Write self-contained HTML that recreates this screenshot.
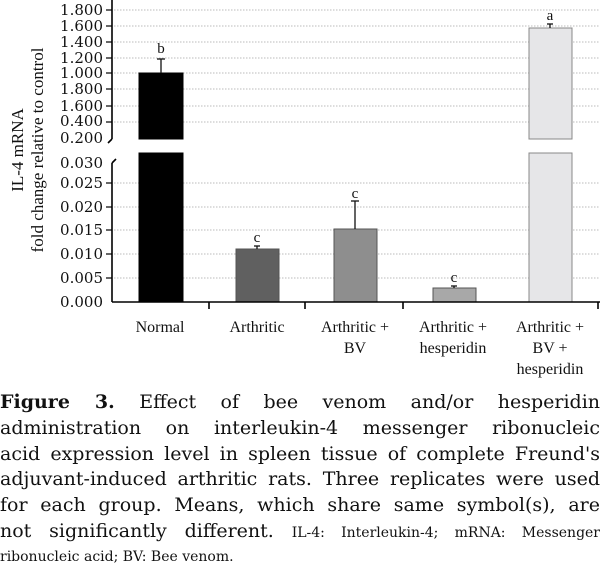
<!DOCTYPE html>
<html><head><style>
body{margin:0;width:600px;height:576px;background:#fff;overflow:hidden;font-family:"Liberation Serif",serif;}
svg{position:absolute;left:0;top:0}
.cap{position:absolute;left:0;top:390px;width:600px;font-family:"DejaVu Serif",serif;font-size:19px;line-height:25.8px;color:#111;}
.cap div{text-align:justify;text-align-last:justify;white-space:nowrap;height:25.8px}
.cap div.l{text-align-last:left}
.cap b{font-weight:bold}
.sm{font-size:14px}
</style></head><body>
<svg width="600" height="380" font-family="Liberation Serif, serif" fill="#111">
<g stroke="#bbb" stroke-dasharray="1.5,1.5" stroke-width="1">
<line x1="114" x2="600" y1="10" y2="10"/><line x1="114" x2="600" y1="26" y2="26"/><line x1="114" x2="600" y1="42" y2="42"/><line x1="114" x2="600" y1="58" y2="58"/><line x1="114" x2="600" y1="73" y2="73"/><line x1="114" x2="600" y1="89" y2="89"/><line x1="114" x2="600" y1="106" y2="106"/><line x1="114" x2="600" y1="122" y2="122"/>
<line x1="114" x2="600" y1="183" y2="183"/><line x1="114" x2="600" y1="207" y2="207"/><line x1="114" x2="600" y1="230" y2="230"/><line x1="114" x2="600" y1="254" y2="254"/><line x1="114" x2="600" y1="278" y2="278"/>
</g>
<g stroke="#555" stroke-width="1">
<rect x="139" y="73" width="44" height="66" fill="#000" stroke="#000"/>
<rect x="139" y="153" width="44" height="149" fill="#000" stroke="#000"/>
<rect x="236" y="249" width="43" height="53" fill="#606060"/>
<rect x="334" y="229" width="43" height="73" fill="#8e8e8e"/>
<rect x="433" y="288" width="43" height="14" fill="#a8a8a8"/>
<rect x="529" y="28" width="43" height="111" fill="#e6e6e8" stroke="#888"/>
<rect x="529" y="153" width="43" height="149" fill="#e6e6e8" stroke="#888"/>
</g>
<g stroke="#111" stroke-width="1.3">
<line x1="161" y1="73" x2="161" y2="59"/><line x1="157" y1="59" x2="165" y2="59"/>
<line x1="257" y1="249" x2="257" y2="246"/><line x1="254" y1="246" x2="260" y2="246"/>
<line x1="355" y1="229" x2="355" y2="201"/><line x1="351" y1="201" x2="359" y2="201"/>
<line x1="454" y1="288" x2="454" y2="286"/><line x1="451" y1="286" x2="457" y2="286"/>
<line x1="550" y1="28" x2="550" y2="24"/><line x1="547" y1="24" x2="553" y2="24"/>
</g>
<g stroke="#000" stroke-width="1.6" fill="none">
<line x1="112" y1="0" x2="112" y2="139"/><line x1="112" y1="139" x2="108" y2="143"/>
<line x1="112" y1="302" x2="112" y2="163"/><line x1="112" y1="163" x2="116" y2="159"/>
<line x1="112" y1="302" x2="600" y2="302"/>
<line x1="209" y1="302" x2="209" y2="309"/><line x1="305" y1="302" x2="305" y2="309"/><line x1="403" y1="302" x2="403" y2="309"/><line x1="598" y1="302" x2="598" y2="309"/>
<g stroke-width="1.2">
<line x1="106" x2="112" y1="10" y2="10"/><line x1="106" x2="112" y1="26" y2="26"/><line x1="106" x2="112" y1="42" y2="42"/><line x1="106" x2="112" y1="58" y2="58"/><line x1="106" x2="112" y1="73" y2="73"/><line x1="106" x2="112" y1="89" y2="89"/><line x1="106" x2="112" y1="106" y2="106"/><line x1="106" x2="112" y1="122" y2="122"/>
<line x1="106" x2="112" y1="183" y2="183"/><line x1="106" x2="112" y1="207" y2="207"/><line x1="106" x2="112" y1="230" y2="230"/><line x1="106" x2="112" y1="254" y2="254"/><line x1="106" x2="112" y1="278" y2="278"/>
</g>
</g>
<g font-size="15" text-anchor="end" font-family="DejaVu Serif, serif">
<text x="103" y="15">1.800</text><text x="103" y="31">1.600</text><text x="103" y="47">1.400</text><text x="103" y="63">1.200</text><text x="103" y="78">1.000</text><text x="103" y="94">1.800</text><text x="103" y="111">1.600</text><text x="103" y="126">0.400</text><text x="103" y="143">0.200</text>
<text x="103" y="168">0.030</text><text x="103" y="188">0.025</text><text x="103" y="212">0.020</text><text x="103" y="235">0.015</text><text x="103" y="259">0.010</text><text x="103" y="283">0.005</text><text x="103" y="307">0.000</text>
</g>
<g font-size="15" text-anchor="middle">
<text x="161" y="53">b</text><text x="257" y="242">c</text><text x="355" y="198">c</text><text x="454" y="282">c</text><text x="550" y="20">a</text>
</g>
<g font-size="17" text-anchor="middle">
<text transform="translate(23,150) rotate(-90)">IL-4 mRNA</text>
<text transform="translate(43,150) rotate(-90)">fold change relative to control</text>
</g>
<g font-size="16" text-anchor="middle">
<text x="160" y="332">Normal</text><text x="257" y="332">Arthritic</text>
<text x="355" y="332">Arthritic +</text><text x="355" y="353">BV</text>
<text x="453" y="332">Arthritic +</text><text x="453" y="353">hesperidin</text>
<text x="550" y="332">Arthritic +</text><text x="550" y="353">BV +</text><text x="550" y="374">hesperidin</text>
</g>
</svg>
<div class="cap">
<div><b>Figure 3.</b> Effect of bee venom and/or hesperidin</div>
<div>administration on interleukin-4 messenger ribonucleic</div>
<div>acid expression level in spleen tissue of complete Freund's</div>
<div>adjuvant-induced arthritic rats. Three replicates were used</div>
<div>for each group. Means, which share same symbol(s), are</div>
<div>not significantly different. <span class="sm">IL-4: Interleukin-4; mRNA: Messenger</span></div>
<div class="l" style="height:20px;line-height:20px"><span class="sm">ribonucleic acid; BV: Bee venom.</span></div>
</div>
</body></html>
